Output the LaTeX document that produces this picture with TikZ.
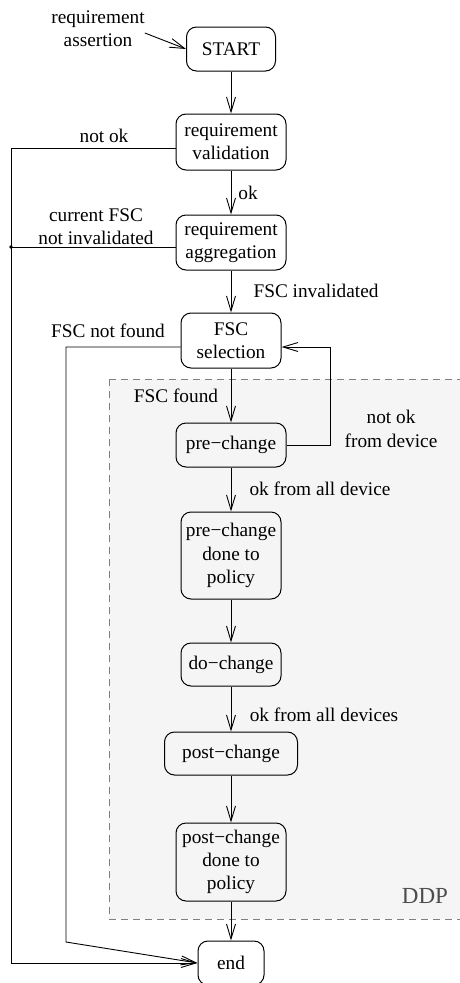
\documentclass[tikz,border=0pt]{standalone}
\usepackage{fontspec}
\setmainfont{Liberation Serif}
\usetikzlibrary{arrows.meta}
\begin{document}
\begin{tikzpicture}[x=1pt,y=-1pt,
  every node/.style={font=\fontsize{19.3}{23.3}\selectfont, inner sep=0pt},
  state/.style={draw, line width=1pt, rounded corners=10pt, align=center},
  lbl/.style={align=center},
  flow/.style={line width=0.9pt, -{Straight Barb[length=15pt,width=9pt,line width=0.9pt]}},
  wire/.style={line width=0.9pt}]
\useasboundingbox (0,0) rectangle (460,983);

% DDP region
\fill[black!4] (109,379) rectangle (470,919);
\draw[gray, line width=0.9pt, dash pattern=on 7pt off 5pt] (109,379) -- (109,919) -- (470,919);
\draw[gray, line width=0.9pt, dash pattern=on 7pt off 5pt] (109,379) -- (470,379);
\node[text=black!70, font=\fontsize{23}{26}\selectfont] (ddp) at (425,896) {DDP};

% states
\node[state, minimum width=89pt, minimum height=44pt] (start) at (231,49) {START};
\node[state, minimum width=110pt, minimum height=56pt] (valid) at (231,142) {requirement\\validation};
\node[state, minimum width=110pt, minimum height=55pt] (aggr) at (231,242.5) {requirement\\aggregation};
\node[state, minimum width=100pt, minimum height=55pt] (fscsel) at (231,340.5) {FSC\\selection};
\node[state, minimum width=110pt, minimum height=44pt] (pre) at (231,445) {pre−change};
\node[state, minimum width=100pt, minimum height=87pt] (predone) at (231,555.5) {pre−change\\done to\\policy};
\node[state, minimum width=100pt, minimum height=43pt] (do) at (231,664.5) {do−change};
\node[state, minimum width=133pt, minimum height=43pt] (post) at (231,753.5) {post−change};
\node[state, minimum width=110pt, minimum height=78pt] (postdone) at (231,862) {post−change\\done to\\policy};
\node[state, minimum width=66pt, minimum height=44pt] (end) at (231,963) {end};

% labels
\node[lbl] (assert) at (98,28.5) {requirement\\assertion};
\node[lbl] (notok) at (104,136) {not ok};
\node[lbl] (curfsc) at (96,227) {current FSC\\not invalidated};
\node[lbl] (ok) at (248,193) {ok};
\node[lbl] (fscinv) at (316,291) {FSC invalidated};
\node[lbl] (fscnf) at (108,331) {FSC not found};
\node[lbl] (fscfound) at (176,396) {FSC found};
\node[lbl] (notokdev) at (391,429) {not ok\\from device};
\node[lbl] (okall) at (320,489) {ok from all device};
\node[lbl] (okalls) at (324,715) {ok from all devices};

% junction points
\coordinate (lrail) at (11,963);
\coordinate (mrail) at (66,942);
\coordinate (loop) at (330,347);

% main flow
\draw[flow] ([yshift=-4.5pt]assert.east) -- (start.west);
\draw[flow] (start) -- (valid);
\draw[flow] (valid) -- (aggr);
\draw[flow] (aggr) -- (fscsel);
\draw[flow] (fscsel) -- (pre);
\draw[flow] (pre) -- (predone);
\draw[flow] (predone) -- (do);
\draw[flow] (do) -- (post);
\draw[flow] (post) -- (postdone);
\draw[flow] (postdone) -- (end);

% exits to end
\draw[flow] ([yshift=-6pt]valid.west) -| (lrail) -- (end.west);
\draw[wire] ([yshift=-4.5pt]aggr.west) -- (11,247);
\fill (11,247) circle (1.8pt);
\draw[flow] ([yshift=-6.5pt]fscsel.west) -| (mrail) -- (end.west);

% retry loop
\draw[flow] (pre.east) -| (loop) -- ([yshift=-6.5pt]fscsel.east);
\end{tikzpicture}
\end{document}
